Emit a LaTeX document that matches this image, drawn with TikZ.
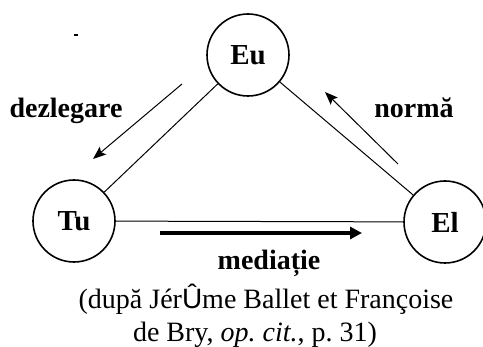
\documentclass[tikz,border=0pt]{standalone}
\usepackage{fontspec}
\setmainfont{Liberation Serif}
\newfontfamily\sansU{Liberation Sans}
\usetikzlibrary{arrows.meta}
\frenchspacing
\begin{document}
\begin{tikzpicture}[x=1pt,y=-1pt,
  person/.style={draw,circle,line width=1.6pt,minimum size=82pt,inner sep=0pt,
    font=\fontsize{29}{30}\selectfont\bfseries},
  link/.style={line width=1pt},
  flow/.style={line width=1pt,-{Stealth[length=13pt,width=10pt,inset=2.5pt]}},
  lbl/.style={font=\fontsize{28}{30}\selectfont\bfseries,inner sep=0pt},
  captxt/.style={font=\fontsize{28}{30}\selectfont,inner sep=0pt,anchor=base}]
\useasboundingbox (0,0) rectangle (483,347);
\node[person] (Eu) at (248,55) {Eu};
\node[person] (Tu) at (74,221) {Tu};
\node[person] (El) at (445,222) {El};
\draw[link] (Eu) -- (Tu);
\draw[link] (Eu) -- (El);
\draw[link] (Tu) -- (El);
\coordinate (d1) at (182,84);
\coordinate (d2) at (93,159);
\draw[flow] (d1) -- (d2);
\coordinate (n1) at (398,164);
\coordinate (n2) at (325,92);
\draw[flow] (n1) -- (n2);
\coordinate (m1) at (160,233);
\coordinate (m2) at (362,233);
\draw[line width=4pt,-{Triangle[length=12pt,width=12pt]}] (m1) -- (m2);
\coordinate (t1) at (74,35);
\coordinate (t2) at (78,35);
\draw[line width=1.4pt] (t1) -- (t2);
\node[lbl,anchor=base] (dez) at (66,118) {dezlegare};
\node[lbl,anchor=base] (nor) at (414,118) {normă};
\node[lbl,anchor=base] (med) at (269,270) {mediație};
\node[captxt] (c1) at (266,309) {(după Jér{\sansU Û}me Ballet et Françoise};
\node[captxt] (c2) at (255,342) {de Bry, \textit{op. cit.}, p. 31)};
\end{tikzpicture}
\end{document}
